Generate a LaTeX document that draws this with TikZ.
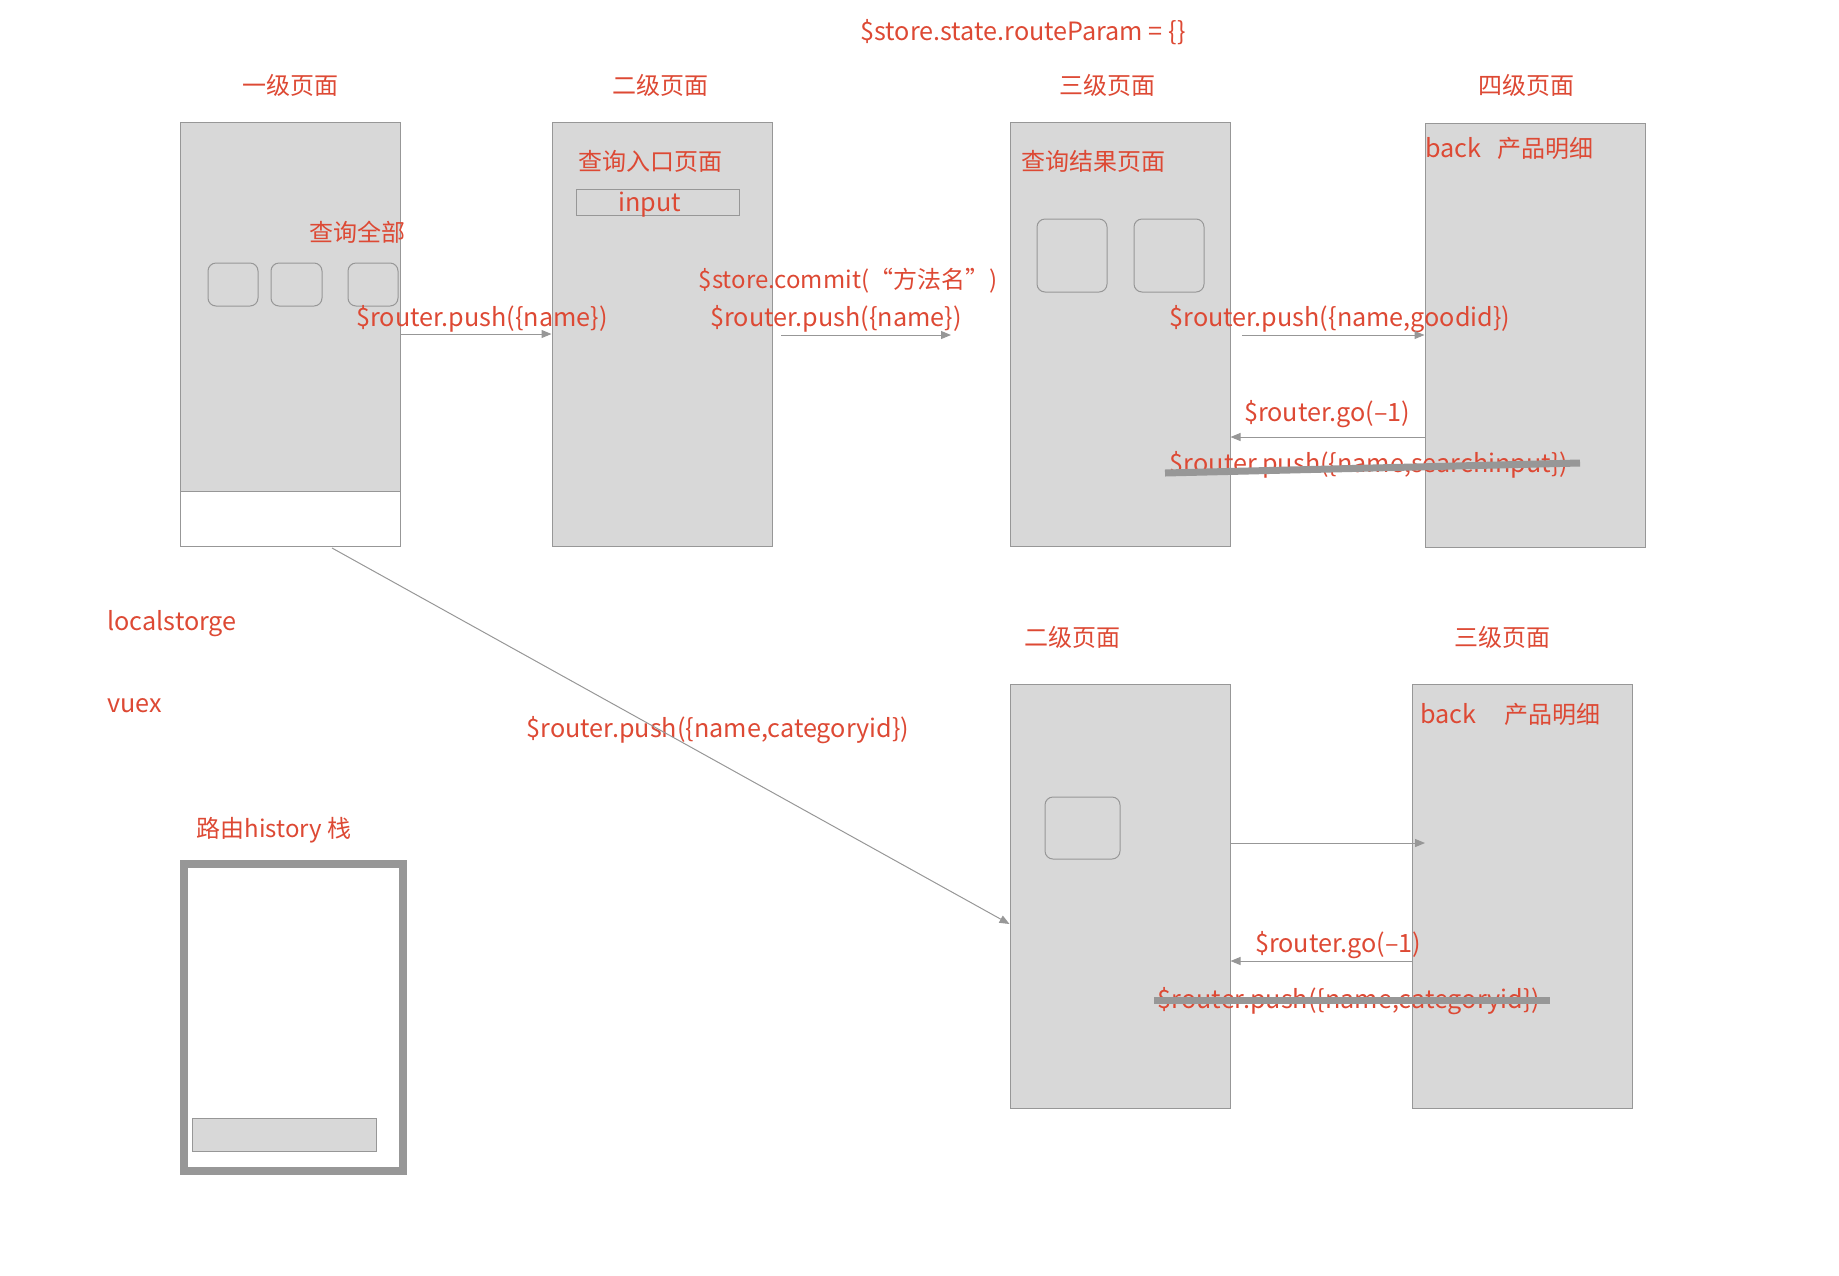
\documentclass[tikz,border=0pt]{standalone}
\usepackage{fontspec}
\setmainfont{Noto Sans CJK SC}
\usetikzlibrary{arrows.meta}
\definecolor{routered}{RGB}{221,73,52}
\definecolor{pagegray}{RGB}{216,216,216}
\definecolor{linegray}{RGB}{151,151,151}
\begin{document}
\begin{tikzpicture}[x=0.5pt, y=-0.5pt,
        page/.style={draw=linegray, fill=pagegray, line width=0.5pt, inner sep=0pt,
                     minimum width=110pt, minimum height=212pt},
        card/.style={draw=linegray, fill=pagegray, line width=0.5pt, inner sep=0pt,
                     rounded corners=4pt},
        lbl/.style={text=routered, inner sep=0pt, font=\fontsize{12}{14}\selectfont},
        code/.style={lbl, font=\fontsize{12.6}{14}\selectfont},
        link/.style={draw=linegray, line width=0.5pt, -{Triangle[length=5pt,width=4pt]}},
        strike/.style={draw=linegray, line width=3.5pt}]
        \useasboundingbox (0,0) rectangle (1839,1275);

        % Pages of the upper row
        \node[page] (p1) at (290.5,334) {};
        \node[page, fill=white, minimum height=27.5pt, anchor=south] (p1foot) at (p1.south) {};
        \node[page] (p2) at (662,334) {};
        \node[page] (p3) at (1120,334) {};
        \node[page] (p4) at (1535,335) {};

        % Pages of the lower row
        \node[page] (q2) at (1120,896) {};
        \node[page] (q3) at (1522.5,896) {};

        % Cards inside the pages
        \node[card, minimum width=25pt, minimum height=21.5pt] (c11) at (233,284.5) {};
        \node[card, minimum width=25.5pt, minimum height=21.5pt] (c12) at (296.5,284.5) {};
        \node[card, minimum width=25pt, minimum height=21.5pt] (c13) at (373,284.5) {};
        \node[card, minimum width=35pt, minimum height=36.5pt] (c31) at (1072,255.5) {};
        \node[card, minimum width=35pt, minimum height=36.5pt] (c32) at (1169,255.5) {};
        \node[card, minimum width=37.5pt, minimum height=31pt] (c21) at (1082.5,828) {};
        \node[card, rounded corners=0pt, minimum width=81.5pt, minimum height=13pt] (inbox) at (657.5,202) {};
        \node[code] (intext) at (650,205) {input};

        % History stack
        \node[draw=linegray, line width=4pt, fill=white, minimum width=109.5pt,
              minimum height=153.5pt] (stack) at (293.5,1017.5) {};
        \node[card, rounded corners=0pt, minimum width=92pt, minimum height=16.5pt] (top) at (284,1134.5) {};

        % Titles
        \node[code] (reset) at (1023,32) {\$store.state.routeParam = \{\}};
        \node[lbl] (t1) at (290,85) {一级页面};
        \node[lbl] (t2) at (660,85) {二级页面};
        \node[lbl] (t3) at (1107,85) {三级页面};
        \node[lbl] (t4) at (1526,85) {四级页面};
        \node[lbl] (u2) at (1072,637) {二级页面};
        \node[lbl] (u3) at (1502,637) {三级页面};

        % Texts on the pages
        \node[lbl] (all) at (357,232) {查询全部};
        \node[lbl] (entry) at (650,161) {查询入口页面};
        \node[lbl] (result) at (1093,161) {查询结果页面};
        \node[lbl, anchor=west] (detail) at (1425,148) {{\fontsize{12.6}{14}\selectfont back}\hspace{8pt}产品明细};
        \node[lbl, anchor=west] (detail2) at (1420,714) {{\fontsize{12.6}{14}\selectfont back}\hspace{14pt}产品明细};
        \node[code, anchor=west] (local) at (107,624) {localstorge};
        \node[code, anchor=west] (vuex) at (107,706) {vuex};
        \node[lbl] (hist) at (274,830) {路由history 栈};

        % Texts on the connectors
        \node[code] (push1) at (482,319) {\$router.push(\{name\})};
        \node[lbl] (commit) at (848,281) {\$store.commit(“方法名”)};
        \node[code] (push2) at (836,319) {\$router.push(\{name\})};
        \node[code] (push3) at (1340,319) {\$router.push(\{name,goodid\})};
        \node[code] (back1) at (1327,414) {\$router.go(–1)};
        \node[code] (push4) at (1369,465) {\$router.push(\{name,searchinput\})};
        \node[code] (push5) at (718,730) {\$router.push(\{name,categoryid\})};
        \node[code] (back2) at (1338,945) {\$router.go(–1)};
        \node[code] (push6) at (1349,1001) {\$router.push(\{name,categoryid\})};

        % Free ends of the connectors
        \coordinate (s2) at (781,335);
        \coordinate (e2) at (951,335);
        \coordinate (s3) at (1242,335);
        \coordinate (y4) at (0,437);
        \coordinate (d0) at (332,548);
        \coordinate (d1) at (0,924);
        \coordinate (y5) at (0,843);
        \coordinate (e5) at (1425,843);
        \coordinate (y6) at (0,961);
        \coordinate (x1a) at (1165,473);
        \coordinate (x1b) at (1580,463);
        \coordinate (x2a) at (1154,1000);
        \coordinate (x2b) at (1550,1000);

        % Connectors
        \draw[link] (p1.east) -- (p2.west);
        \draw[link] (s2) -- (e2);
        \draw[link] (s3) -- (p4.west);
        \draw[link] (p4.west |- y4) -- (p3.east |- y4);
        \draw[link] (d0) -- (q2.west |- d1);
        \draw[link] (q2.east |- y5) -- (e5);
        \draw[link] (q3.west |- y6) -- (q2.east |- y6);

        % Struck out calls
        \draw[strike] (x1a) -- (x1b);
        \draw[strike] (x2a) -- (x2b);

    \end{tikzpicture}
\end{document}
